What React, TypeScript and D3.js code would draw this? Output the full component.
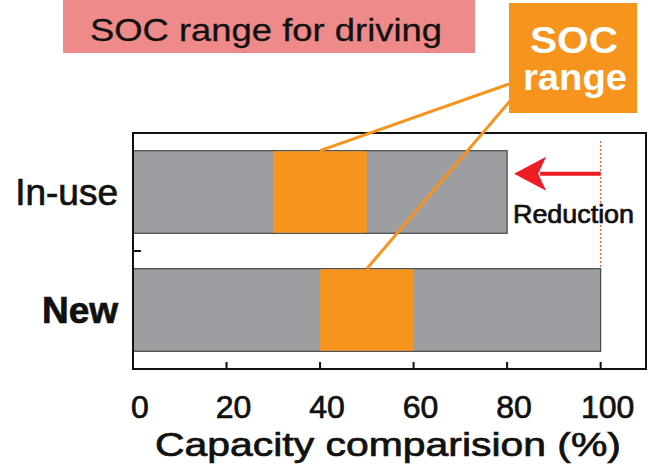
import React from "react";
import * as d3 from "d3";

const categories = ["In-use", "New"];
const capacity = [80, 100];
const socStart = [30, 40];
const socEnd = [50, 60];
const xTicks = [0, 20, 40, 60, 80, 100];
const xTitle = "Capacity comparision (%)";
const boxTitle = "SOC range for driving";
const socLabel = ["SOC", "range"];
const reductionLabel = "Reduction";

const W = 654;
const H = 474;
const M = { left: 133, right: 646, top: 133, bottom: 369 };
const FONT = "'Liberation Sans', Arial, Helvetica, sans-serif";
const GRAY = "#9d9ea1";
const ORANGE = "#f7941d";
const RED = "#ee1c25";
const INK = "#111";

export default function App() {
  const x = d3.scaleLinear().domain([0, 109.7]).range([M.left, M.right]);
  const y = d3
    .scaleBand<string>()
    .domain(categories)
    .range([M.top, M.bottom])
    .paddingInner(0.3)
    .paddingOuter(0.15);
  const bw = y.bandwidth();
  const step = y.step();

  const inUseTop = y(categories[0])!;
  const newTop = y(categories[1])!;
  const arrowY = inUseTop + bw * 0.28;
  const tipX = x(capacity[0]) + 7;
  const headLen = 32;
  const headHalf = 17;
  const heavy = { stroke: INK, strokeWidth: 0.7 };

  return (
    <svg
      width={W}
      height={H}
      style={{ position: "absolute", left: 0, top: 0, background: "#fff" }}
      fontFamily={FONT}
    >
      {/* title box */}
      <rect x={63} y={0} width={412} height={53} fill="#ee8a8a" />
      <text x={90} y={41} fontSize={32} fill={INK} stroke={INK} strokeWidth={0.3} textLength={352} lengthAdjust="spacingAndGlyphs">
        {boxTitle}
      </text>

      {/* bars */}
      {categories.map((c, i) => (
        <g key={c}>
          <rect
            x={x(0)}
            y={y(c)!}
            width={x(capacity[i]) - x(0)}
            height={bw}
            fill={GRAY}
            stroke="#444"
            strokeWidth={1.2}
          />
          <rect
            x={x(socStart[i])}
            y={y(c)! + 0.6}
            width={x(socEnd[i]) - x(socStart[i])}
            height={bw - 1.2}
            fill={ORANGE}
          />
        </g>
      ))}

      {/* dotted 100% line */}
      <line
        x1={x(100)}
        x2={x(100)}
        y1={M.top + 8}
        y2={newTop}
        stroke="#f04a2a"
        strokeWidth={1}
        strokeDasharray="2,2"
      />

      {/* reduction arrow */}
      <line x1={x(100)} x2={tipX + headLen - 6} y1={arrowY} y2={arrowY} stroke={RED} strokeWidth={4} />
      <path
        d={`M${tipX},${arrowY} L${tipX + headLen},${arrowY - headHalf} L${tipX + headLen - 8},${arrowY} L${tipX + headLen},${arrowY + headHalf} Z`}
        fill={RED}
      />
      <text x={513} y={223} fontSize={25} fill={INK} {...heavy} textLength={121} lengthAdjust="spacingAndGlyphs">
        {reductionLabel}
      </text>

      {/* frame */}
      <rect x={M.left} y={M.top} width={M.right - M.left} height={M.bottom - M.top} fill="none" stroke={INK} strokeWidth={2} />

      {/* x ticks */}
      {xTicks.map((t) => (
        <g key={t}>
          <line x1={x(t)} x2={x(t)} y1={M.bottom} y2={M.bottom - 7} stroke={INK} strokeWidth={2} />
          <text x={x(t) + 7} y={418} fontSize={32} textAnchor="middle" fill={INK} {...heavy}>
            {t}
          </text>
        </g>
      ))}
      {/* y tick between categories */}
      <line x1={M.left} x2={M.left + 8} y1={M.top + step} y2={M.top + step} stroke={INK} strokeWidth={2} />

      {/* y labels */}
      {categories.map((c, i) => (
        <text
          key={c}
          x={118}
          y={y(c)! + bw / 2 + 13}
          fontSize={37}
          textAnchor="end"
          fill={INK}
          {...heavy}
          fontWeight={i === 1 ? "bold" : "normal"}
        >
          {c}
        </text>
      ))}

      {/* x axis title */}
      <text x={155} y={456} fontSize={33} fill={INK} {...heavy} textLength={466} lengthAdjust="spacingAndGlyphs">
        {xTitle}
      </text>

      {/* leader lines */}
      <line
        x1={509}
        y1={84}
        x2={x((socStart[0] + socEnd[0]) / 2)}
        y2={inUseTop}
        stroke={ORANGE}
        strokeWidth={3}
      />
      <line
        x1={510}
        y1={101}
        x2={x((socStart[1] + socEnd[1]) / 2)}
        y2={newTop}
        stroke={ORANGE}
        strokeWidth={3}
      />

      {/* SOC range box */}
      <rect x={509} y={3} width={128} height={110} fill={ORANGE} />
      <text x={574} y={53} fontSize={36} fontWeight="bold" fill="#fff" textAnchor="middle" textLength={88} lengthAdjust="spacingAndGlyphs">
        {socLabel[0]}
      </text>
      <text x={575} y={90} fontSize={36} fontWeight="bold" fill="#fff" textAnchor="middle" textLength={104} lengthAdjust="spacingAndGlyphs">
        {socLabel[1]}
      </text>
    </svg>
  );
}
